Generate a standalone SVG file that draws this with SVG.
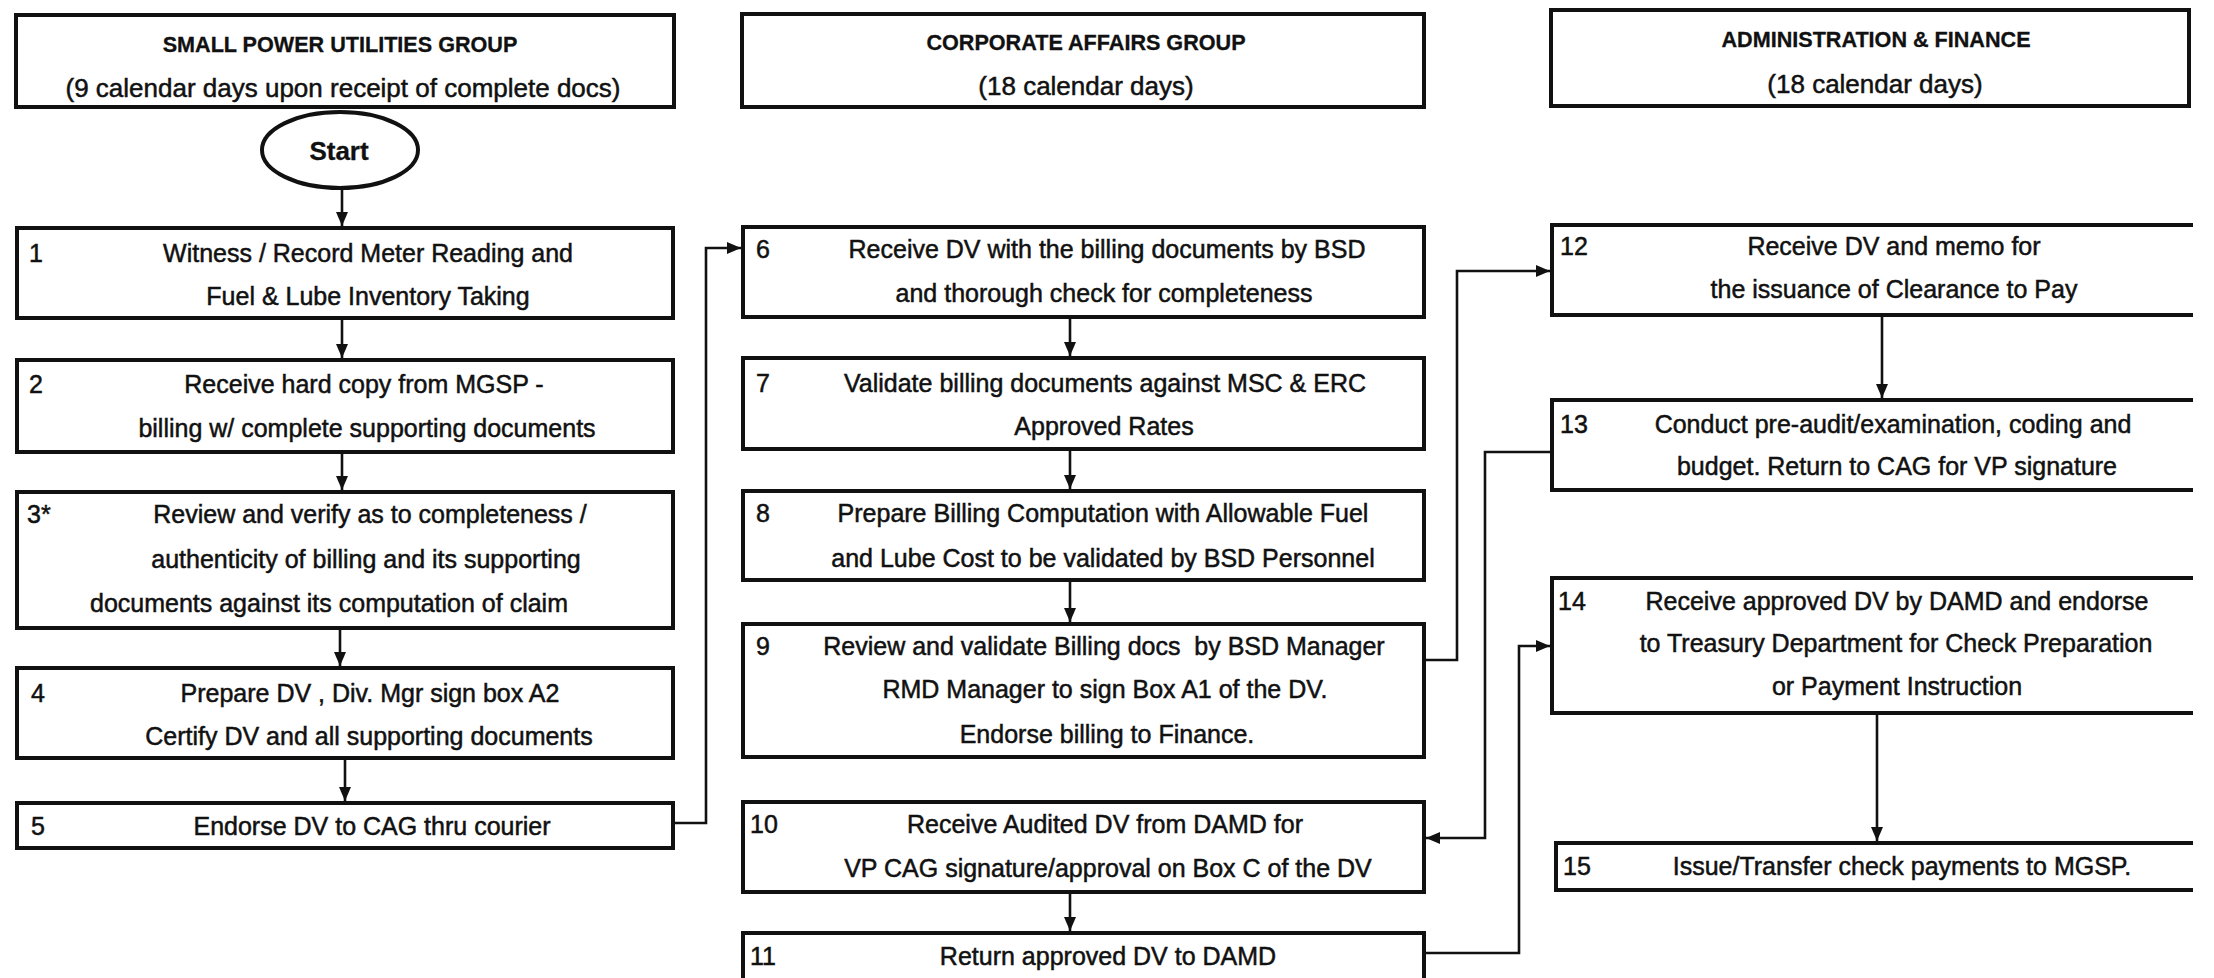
<svg xmlns="http://www.w3.org/2000/svg" width="2214" height="978" viewBox="0 0 2214 978">
<style>
.bx{fill:#fff;stroke:#111;stroke-width:4}
.op{fill:none;stroke:#111;stroke-width:4}
.ln{fill:none;stroke:#111;stroke-width:2.6}
text{font-family:"Liberation Sans",Arial,sans-serif;fill:#111;stroke:#111;stroke-width:0.5}
.t{font-size:25px;text-anchor:middle}
.n{font-size:25px;text-anchor:start}
.h{font-size:21.6px;font-weight:bold;text-anchor:middle;stroke-width:0.3}
.s{font-size:26px;text-anchor:middle}
</style>
<defs>
<marker id="ar" markerWidth="14" markerHeight="12" refX="14" refY="6" orient="auto" markerUnits="userSpaceOnUse">
<path d="M0,0 L14,6 L0,12 Z" fill="#111"/>
</marker>
</defs>
<rect width="2214" height="978" fill="#fff"/>

<g id="connectors" class="ln">
<line x1="342" y1="188" x2="342" y2="226" marker-end="url(#ar)"/>
<line x1="342" y1="318" x2="342" y2="358" marker-end="url(#ar)"/>
<line x1="342" y1="452" x2="342" y2="490" marker-end="url(#ar)"/>
<line x1="340" y1="628" x2="340" y2="666" marker-end="url(#ar)"/>
<line x1="345" y1="758" x2="345" y2="801" marker-end="url(#ar)"/>
<path d="M673,823 H706 V248 H741" marker-end="url(#ar)"/>
<line x1="1070" y1="317" x2="1070" y2="356" marker-end="url(#ar)"/>
<line x1="1070" y1="449" x2="1070" y2="489" marker-end="url(#ar)"/>
<line x1="1070" y1="580" x2="1070" y2="622" marker-end="url(#ar)"/>
<path d="M1424,660 H1457 V271 H1550" marker-end="url(#ar)"/>
<path d="M1552,452 H1485 V838 H1426" marker-end="url(#ar)"/>
<line x1="1070" y1="892" x2="1070" y2="931" marker-end="url(#ar)"/>
<path d="M1424,953 H1519 V646 H1550" marker-end="url(#ar)"/>
<line x1="1882" y1="315" x2="1882" y2="398" marker-end="url(#ar)"/>
<line x1="1877" y1="713" x2="1877" y2="841" marker-end="url(#ar)"/>
</g>

<g id="hdr-spug">
<rect class="bx" x="16" y="15" width="658" height="92"/>
<text class="h" x="340" y="52">SMALL POWER UTILITIES GROUP</text>
<text class="s" x="343" y="97">(9 calendar days upon receipt of complete docs)</text>
</g>
<g id="hdr-cag">
<rect class="bx" x="742" y="14" width="682" height="93"/>
<text class="h" x="1086" y="50">CORPORATE AFFAIRS GROUP</text>
<text class="s" x="1086" y="95">(18 calendar days)</text>
</g>
<g id="hdr-af">
<rect class="bx" x="1551" y="10" width="638" height="96"/>
<text class="h" x="1876" y="47">ADMINISTRATION &amp; FINANCE</text>
<text class="s" x="1875" y="93">(18 calendar days)</text>
</g>

<g id="start">
<ellipse class="bx" cx="340" cy="150" rx="78" ry="38"/>
<text x="339" y="160" style="font-size:26px;font-weight:bold;text-anchor:middle;stroke-width:0.3">Start</text>
</g>

<g id="step1">
<rect class="bx" x="17" y="228" width="656" height="90"/>
<text class="n" x="29" y="262">1</text>
<text class="t" x="368" y="262">Witness / Record Meter Reading and</text>
<text class="t" x="368" y="305">Fuel &amp; Lube Inventory Taking</text>
</g>
<g id="step2">
<rect class="bx" x="17" y="360" width="656" height="92"/>
<text class="n" x="29" y="393">2</text>
<text class="t" x="364" y="393">Receive hard copy from MGSP -</text>
<text class="t" x="367" y="437">billing w/ complete supporting documents</text>
</g>
<g id="step3">
<rect class="bx" x="17" y="492" width="656" height="136"/>
<text class="n" x="27" y="523">3*</text>
<text class="t" x="370" y="523">Review and verify as to completeness /</text>
<text class="t" x="366" y="568">authenticity of billing and its supporting</text>
<text class="t" x="329" y="612">documents against its computation of claim</text>
</g>
<g id="step4">
<rect class="bx" x="17" y="668" width="656" height="90"/>
<text class="n" x="31" y="702">4</text>
<text class="t" x="370" y="702">Prepare DV , Div. Mgr sign box A2</text>
<text class="t" x="369" y="745">Certify DV and all supporting documents</text>
</g>
<g id="step5">
<rect class="bx" x="17" y="803" width="656" height="45"/>
<text class="n" x="31" y="835">5</text>
<text class="t" x="372" y="835">Endorse DV to CAG thru courier</text>
</g>

<g id="step6">
<rect class="bx" x="743" y="227" width="681" height="90"/>
<text class="n" x="756" y="258">6</text>
<text class="t" x="1107" y="258">Receive DV with the billing documents by BSD</text>
<text class="t" x="1104" y="302">and thorough check for completeness</text>
</g>
<g id="step7">
<rect class="bx" x="743" y="358" width="681" height="91"/>
<text class="n" x="756" y="392">7</text>
<text class="t" x="1105" y="392">Validate billing documents against MSC &amp; ERC</text>
<text class="t" x="1104" y="435">Approved Rates</text>
</g>
<g id="step8">
<rect class="bx" x="743" y="491" width="681" height="89"/>
<text class="n" x="756" y="522">8</text>
<text class="t" x="1103" y="522">Prepare Billing Computation with Allowable Fuel</text>
<text class="t" x="1103" y="567">and Lube Cost to be validated by BSD Personnel</text>
</g>
<g id="step9">
<rect class="bx" x="743" y="624" width="681" height="133"/>
<text class="n" x="756" y="655">9</text>
<text class="t" x="1104" y="655" style="white-space:pre">Review and validate Billing docs  by BSD Manager</text>
<text class="t" x="1105" y="698">RMD Manager to sign Box A1 of the DV.</text>
<text class="t" x="1107" y="743">Endorse billing to Finance.</text>
</g>
<g id="step10">
<rect class="bx" x="743" y="802" width="681" height="90"/>
<text class="n" x="750" y="833">10</text>
<text class="t" x="1105" y="833">Receive Audited DV from DAMD for</text>
<text class="t" x="1108" y="877">VP CAG signature/approval on Box C of the DV</text>
</g>
<g id="step11">
<rect class="bx" x="743" y="933" width="681" height="70"/>
<text class="n" x="750" y="965">11</text>
<text class="t" x="1108" y="965">Return approved DV to DAMD</text>
</g>

<g id="step12">
<rect x="1552" y="225" width="641" height="90" fill="#fff"/>
<path class="op" d="M2193,225 H1552 V315 H2193"/>
<text class="n" x="1560" y="255">12</text>
<text class="t" x="1894" y="255">Receive DV and memo for</text>
<text class="t" x="1894" y="298">the issuance of Clearance to Pay</text>
</g>
<g id="step13">
<rect x="1552" y="400" width="641" height="90" fill="#fff"/>
<path class="op" d="M2193,400 H1552 V490 H2193"/>
<text class="n" x="1560" y="433">13</text>
<text class="t" x="1893" y="433">Conduct pre-audit/examination, coding and</text>
<text class="t" x="1897" y="475">budget. Return to CAG for VP signature</text>
</g>
<g id="step14">
<rect x="1552" y="578" width="641" height="135" fill="#fff"/>
<path class="op" d="M2193,578 H1552 V713 H2193"/>
<text class="n" x="1558" y="610">14</text>
<text class="t" x="1897" y="610">Receive approved DV by DAMD and endorse</text>
<text class="t" x="1896" y="652">to Treasury Department for Check Preparation</text>
<text class="t" x="1897" y="695">or Payment Instruction</text>
</g>
<g id="step15">
<rect x="1556" y="843" width="637" height="47" fill="#fff"/>
<path class="op" d="M2193,843 H1556 V890 H2193"/>
<text class="n" x="1563" y="875">15</text>
<text class="t" x="1902" y="875">Issue/Transfer check payments to MGSP.</text>
</g>
</svg>
